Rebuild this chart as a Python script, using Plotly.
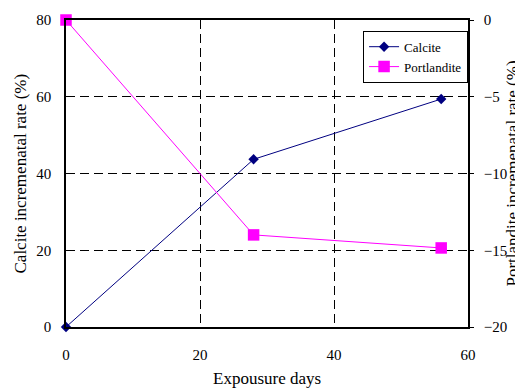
import plotly.graph_objects as go

days = [0, 28, 56]
calcite = [0, 43.7, 59.4]
portlandite = [0, -14.0, -14.85]

x_ticks = [0, 20, 40, 60]
left_ticks = [0, 20, 40, 60, 80]
right_ticks = [-20, -15, -10, -5, 0]

FONT = "Liberation Serif, Times New Roman, serif"

fig = go.Figure()
fig.add_trace(go.Scatter(
    x=days, y=calcite, name="Calcite", mode="lines+markers",
    line=dict(color="#000080", width=1),
    marker=dict(symbol="diamond", size=8, color="#000080"),
    yaxis="y", cliponaxis=False))
fig.add_trace(go.Scatter(
    x=days, y=portlandite, name="Portlandite", mode="lines+markers",
    line=dict(color="#FF00FF", width=1),
    marker=dict(symbol="square", size=11.5, color="#FF00FF"),
    yaxis="y2", cliponaxis=False))

grid = dict(showgrid=True, gridcolor="black", gridwidth=1, griddash="9px,5px")

# The page body has an 8px margin, so the figure is 8px smaller than the window.
fig.update_layout(
    width=515, height=384,
    margin=dict(l=58, r=55, t=4, b=65),
    paper_bgcolor="white", plot_bgcolor="white",
    font=dict(family=FONT, size=15, color="black"),
    showlegend=True,
    legend=dict(x=0.739, y=0.965, xanchor="left", yanchor="top",
                bordercolor="black", borderwidth=1, bgcolor="white",
                font=dict(family=FONT, size=13), tracegroupgap=0,
                itemwidth=30),
    xaxis=dict(range=[0, 60], tickvals=x_ticks, zeroline=False,
               showline=True, linecolor="black", linewidth=1.5, mirror=True,
               ticks="", ticklabelstandoff=13, ticklabeloverflow="allow",
               **grid),
    yaxis=dict(range=[0, 80], tickvals=left_ticks, zeroline=False,
               showline=True, linecolor="black", linewidth=1.5, mirror=True,
               ticks="", ticklabelstandoff=10, ticklabeloverflow="allow",
               **grid),
    yaxis2=dict(range=[-20, 0], tickvals=right_ticks, overlaying="y",
                side="right", zeroline=False, showgrid=False,
                showline=True, linecolor="black", linewidth=1.5,
                ticks="outside", ticklen=4, tickcolor="black",
                ticklabelstandoff=7, ticklabeloverflow="allow"),
    annotations=[
        dict(text="Expousure days", xref="paper", yref="paper", x=0.5, y=0,
             xanchor="center", yanchor="middle", yshift=-51, showarrow=False,
             font=dict(family=FONT, size=17)),
        dict(text="Calcite incremenatal rate (%)", xref="paper", yref="paper",
             x=0, y=0.5, xanchor="center", yanchor="middle", xshift=-46,
             textangle=-90, showarrow=False, font=dict(family=FONT, size=17)),
        dict(text="Portlandite incremenatal rate (%)", xref="paper", yref="paper",
             x=1, y=0.5, xanchor="center", yanchor="middle", xshift=44,
             textangle=-90, showarrow=False, font=dict(family=FONT, size=17)),
    ],
)

fig.write_html("out.html")
